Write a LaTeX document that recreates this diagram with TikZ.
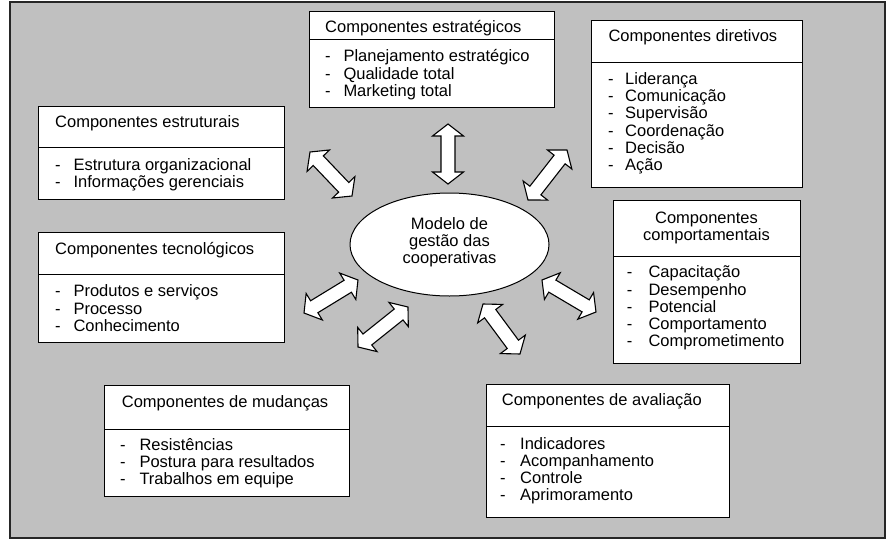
\documentclass[tikz,border=0pt]{standalone}
\usepackage{fontspec}
\setmainfont{Liberation Sans}
\usetikzlibrary{calc,shapes.geometric}
\definecolor{bggray}{RGB}{192,192,192}
\newcommand\fs{\fontsize{16.5}{17.3}\selectfont}
\def\ahl{12}
\def\ahw{15.5}
\def\asw{7}
\tikzset{
  bgbox/.style={fill=bggray, draw=black!85, line width=1.2pt},
  compbox/.style={draw=black, fill=white, line width=0.9pt, anchor=north west, inner sep=0pt, outer sep=0pt},
  divline/.style={draw=black, line width=0.9pt},
  txt/.style={anchor=base west, inner sep=0pt, font=\fs},
  ctxt/.style={anchor=base, inner sep=0pt, font=\fs},
  barrow/.style={draw=black, fill=white, line width=1.1pt, line join=miter},
  model/.style={ellipse, draw=black, fill=white, line width=1pt, inner sep=0pt},
}
\newcommand\blockarrow[2]{%
  \draw[barrow] let \p1=($(#2)-(#1)$), \n1={atan2(\y1,\x1)}, \n2={veclen(\x1,\y1)} in
    [shift={(#1)}, rotate=\n1]
    (0,0) -- (\ahl,\ahw) -- (\ahl,\asw) -- ({\n2-\ahl},\asw) -- ({\n2-\ahl},\ahw) -- (\n2,0)
    -- ({\n2-\ahl},-\ahw) -- ({\n2-\ahl},-\asw) -- (\ahl,-\asw) -- (\ahl,-\ahw) -- cycle;}
% #1 name, #2 dash x, #3 text x, #4 first baseline, #5 list
\newcommand\itemlist[5]{%
  \foreach \t [count=\i from 0] in {#5} {
    \node[txt] (#1-d\i) at (#2,{#4+17.3*\i}) {-};
    \node[txt] (#1-t\i) at (#3,{#4+17.3*\i}) {\t};
  }}
\begin{document}
\begin{tikzpicture}[x=1pt,y=-1pt]
\useasboundingbox (0,0) rectangle (892,552);
\path[bgbox] (10,2) rectangle (885,538);

% Componentes estruturais
\node[compbox, minimum width=246pt, minimum height=93pt] (estr) at (38,106) {};
\draw[divline] (estr.west |- 0,147) -- (estr.east |- 0,147);
\node[txt] (estr-title) at (55,127) {Componentes estruturais};
\itemlist{estr}{55}{73.3}{170}{Estrutura organizacional,Informações gerenciais}

% Componentes estrategicos
\node[compbox, minimum width=245pt, minimum height=96pt] (estrat) at (309,11) {};
\draw[divline] (estrat.west |- 0,39) -- (estrat.east |- 0,39);
\node[txt] (estrat-title) at (325,32.3) {Componentes estratégicos};
\itemlist{estrat}{325}{343.3}{61.7}{Planejamento estratégico,Qualidade total,Marketing total}

% Componentes diretivos
\node[compbox, minimum width=211pt, minimum height=167pt] (dir) at (591,20) {};
\draw[divline] (dir.west |- 0,62) -- (dir.east |- 0,62);
\node[txt] (dir-title) at (608.3,41.7) {Componentes diretivos};
\itemlist{dir}{608}{625}{84.3}{Liderança,Comunicação,Supervisão,Coordenação,Decisão,Ação}

% Componentes tecnologicos
\node[compbox, minimum width=246pt, minimum height=110pt] (tec) at (38,232) {};
\draw[divline] (tec.west |- 0,274) -- (tec.east |- 0,274);
\node[txt] (tec-title) at (55,254.3) {Componentes tecnológicos};
\itemlist{tec}{55}{73.3}{296.7}{Produtos e serviços,Processo,Conhecimento}

% Componentes comportamentais
\node[compbox, minimum width=187pt, minimum height=163pt] (comp) at (613,200) {};
\draw[divline] (comp.west |- 0,256) -- (comp.east |- 0,256);
\node[ctxt] (comp-title1) at (706.5,223.3) {Componentes};
\node[ctxt] (comp-title2) at (706.5,240.3) {comportamentais};
\itemlist{comp}{626.7}{648.3}{277.7}{Capacitação,Desempenho,Potencial,Comportamento,Comprometimento}

% Componentes de mudancas
\node[compbox, minimum width=245pt, minimum height=111pt] (mud) at (104,385) {};
\draw[divline] (mud.west |- 0,429) -- (mud.east |- 0,429);
\node[txt] (mud-title) at (121.7,407.7) {Componentes de mudanças};
\itemlist{mud}{120}{139.3}{450}{Resistências,Postura para resultados,Trabalhos em equipe}

% Componentes de avaliacao
\node[compbox, minimum width=243pt, minimum height=133pt] (aval) at (486,384) {};
\draw[divline] (aval.west |- 0,426) -- (aval.east |- 0,426);
\node[txt] (aval-title) at (501.7,405.7) {Componentes de avaliação};
\itemlist{aval}{500}{520}{449}{Indicadores,Acompanhamento,Controle,Aprimoramento}

% Central ellipse
\node[model, minimum width=199pt, minimum height=103pt] (modelo) at (449.5,244.5) {};
\node[ctxt] (m1) at (449.5,229.3) {Modelo de};
\node[ctxt] (m2) at (449.5,246.5) {gestão das};
\node[ctxt] (m3) at (449.5,263.5) {cooperativas};

% arrow end points
\coordinate (a1s) at (448,124); \coordinate (a1e) at (448,184);
\coordinate (a2s) at (310,152); \coordinate (a2e) at (352,196);
\coordinate (a3s) at (528,200); \coordinate (a3e) at (567,150);
\coordinate (a4s) at (304,313); \coordinate (a4e) at (358,280);
\coordinate (a5s) at (358,347); \coordinate (a5e) at (408,307);
\coordinate (a6s) at (483,304); \coordinate (a6e) at (520,354);
\coordinate (a7s) at (542,280); \coordinate (a7e) at (596,312);
\blockarrow{a1s}{a1e}
\blockarrow{a2s}{a2e}
\blockarrow{a3s}{a3e}
\blockarrow{a4s}{a4e}
\blockarrow{a5s}{a5e}
\blockarrow{a6s}{a6e}
\blockarrow{a7s}{a7e}
\end{tikzpicture}
\end{document}
